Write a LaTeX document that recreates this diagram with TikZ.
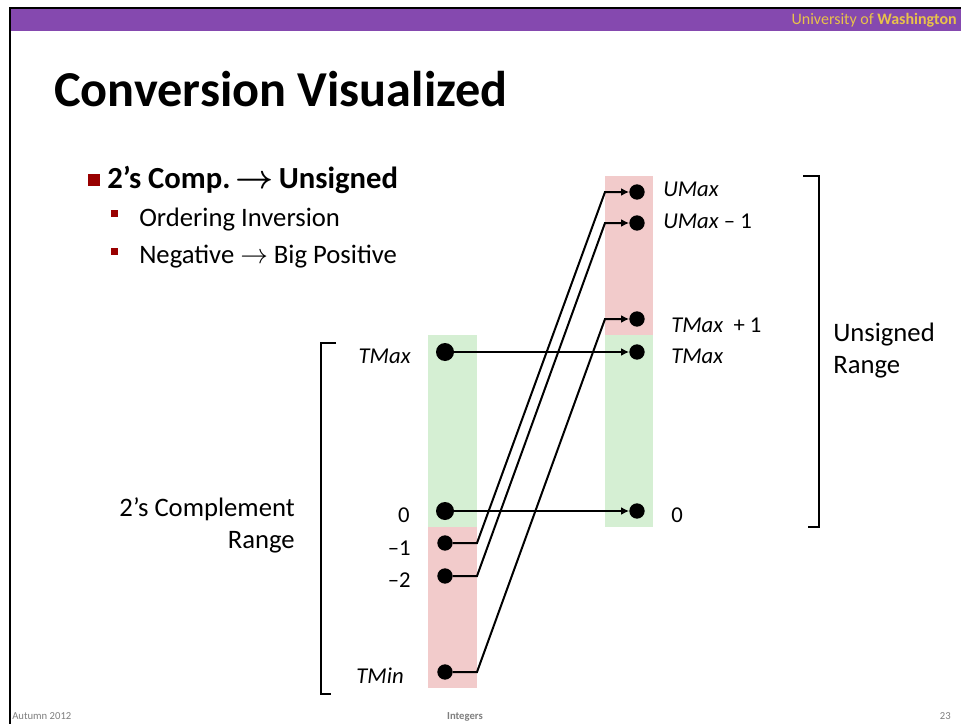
\documentclass[tikz,border=0pt]{standalone}
\usepackage{amsmath}
\usepackage{fontspec}
\setmainfont{Carlito}
\usetikzlibrary{arrows.meta,positioning,calc}
\definecolor{uwpurple}{HTML}{8549AF}
\definecolor{uwgold}{HTML}{E8C24A}
\definecolor{barred}{HTML}{F2CBCB}
\definecolor{bargreen}{HTML}{D5EFD3}
\definecolor{bulletred}{HTML}{990000}
\definecolor{footgray}{HTML}{7F7F7F}
\tikzset{dot/.style={circle,fill=black,inner sep=0pt,minimum size=11.5pt}, bigdot/.style={dot,minimum size=13.5pt}, val/.style={font=\fontsize{17}{19}\selectfont,inner sep=0pt}, flow/.style={-{Latex[length=6pt,width=6pt]},line width=1.5pt}, brack/.style={line width=2pt}, rangetxt/.style={font=\fontsize{20}{24}\selectfont,inner sep=0pt}, foot/.style={font=\fontsize{8}{9}\selectfont,text=footgray,inner sep=0pt}}

\begin{document}
\begin{tikzpicture}[x=0.75pt,y=-0.75pt]
\useasboundingbox (0,0) rectangle (961,724);
\fill[white] (0,0) rectangle (961,724);
% slide frame and header
\fill[uwpurple] (11,9) rectangle (961,31);
\draw[line width=1.5pt] (10,724)--(10,8)--(961,8);
\node[anchor=base east,inner sep=0pt,text=uwgold,font=\fontsize{12}{14}\selectfont] (uw) at (957,25) {University of \textbf{Washington}};
\node[anchor=base west,inner sep=0pt,font=\fontsize{37.7}{40}\selectfont\bfseries] (title) at (54,107) {Conversion Visualized};
% bullets
\fill[bulletred] (88,174) rectangle (100,186);
\node[anchor=base west,inner sep=0pt,font=\fontsize{23}{27}\selectfont\bfseries] (b1) at (107,188) {2’s Comp.\,$\boldsymbol{\rightarrow}$\,Unsigned};
\fill[bulletred] (111,210) rectangle (118,217);
\node[anchor=base west,inner sep=0pt,font=\fontsize{20}{24}\selectfont] (b2) at (139,226) {Ordering Inversion};
\fill[bulletred] (111,248) rectangle (118,255);
\node[anchor=base west,inner sep=0pt,font=\fontsize{20}{24}\selectfont] (b3) at (139,263) {Negative $\rightarrow$ Big Positive};
% bars
\fill[bargreen] (428,335) rectangle (477,527);
\fill[barred] (428,527) rectangle (477,688);
\fill[barred] (605,176) rectangle (653,335);
\fill[bargreen] (605,335) rectangle (653,527);
\coordinate (lb) at (477,0);
\coordinate (rb) at (605,0);
% left dots
\node[bigdot] (ltmax) at (445,352) {};
\node[bigdot] (lzero) at (445,511) {};
\node[dot] (lneg1) at (445,543) {};
\node[dot] (lneg2) at (445,576) {};
\node[dot] (ltmin) at (445,672) {};
% right dots
\node[dot] (rumax) at (637,192) {};
\node[dot] (rumaxm) at (637,223) {};
\node[dot] (rtmaxp) at (637,319) {};
\node[dot] (rtmax) at (637,352) {};
\node[dot] (rzero) at (637,511) {};
% value labels
\node[val,anchor=base east] at (411,363) {\textit{TMax}};
\node[val,anchor=base east] at (410,522) {0};
\node[val,anchor=base east] at (411,555) {–1};
\node[val,anchor=base east] at (411,587) {–2};
\node[val,anchor=base east] at (404,683) {\textit{TMin}};
\node[val,anchor=base west] at (663,196) {\textit{UMax}};
\node[val,anchor=base west] at (663,228) {\textit{UMax} – 1};
\node[val,anchor=base west] at (671,332) {\textit{TMax}\ \ + 1};
\node[val,anchor=base west] at (671,363) {\textit{TMax}};
\node[val,anchor=base west] at (671,522) {0};
% mapping
\draw[flow] (ltmax) -- (rtmax);
\draw[flow] (lzero) -- (rzero);
\draw[flow] (lneg1) -- (lneg1 -| lb) -- (rumax -| rb) -- (rumax);
\draw[flow] (lneg2) -- (lneg2 -| lb) -- (rumaxm -| rb) -- (rumaxm);
\draw[flow] (ltmin) -- (ltmin -| lb) -- (rtmaxp -| rb) -- (rtmaxp);
% ranges
\draw[brack] (336,343) -| (321,694) -- (331,694);
\draw[brack] (803,176) -| (819,527) -- (808,527);
\node[rangetxt,align=right,anchor=east] (trange) at (295,525) {2’s Complement\\Range};
\node[rangetxt,align=left,anchor=west] (urange) at (833,351) {Unsigned\\Range};
% footer
\node[foot,anchor=base west] (fl) at (12,719) {Autumn 2012};
\node[foot,anchor=base,font=\fontsize{8}{9}\selectfont\bfseries] (fc) at (465,719) {Integers};
\node[foot,anchor=base east] (fr) at (951,719) {23};
\end{tikzpicture}
\end{document}
